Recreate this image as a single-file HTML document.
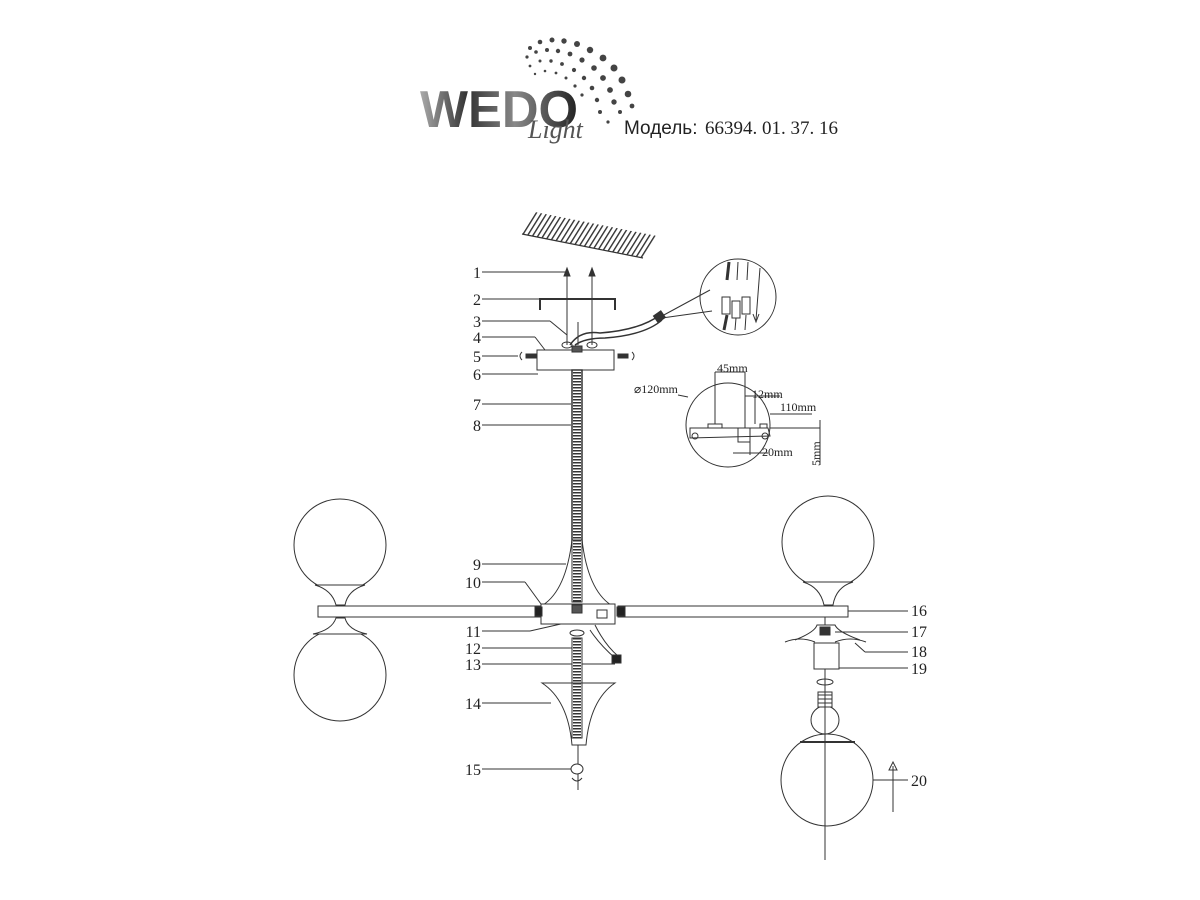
<!DOCTYPE html>
<html><head><meta charset="utf-8"><style>
html,body{margin:0;padding:0;background:#fff;}
svg{display:block}
</style></head><body>
<svg width="1200" height="900" viewBox="0 0 1200 900" xmlns="http://www.w3.org/2000/svg" font-family="Liberation Serif, serif">
<defs>
<pattern id="h" width="4.5" height="10" patternUnits="userSpaceOnUse" patternTransform="rotate(32)">
<rect x="0" y="0" width="1.4" height="10" fill="#333"/>
</pattern>
<linearGradient id="g" x1="0" y1="0" x2="1" y2="0">
<stop offset="0" stop-color="#aaa"/><stop offset="0.3" stop-color="#333"/><stop offset="0.6" stop-color="#888"/><stop offset="1" stop-color="#222"/>
</linearGradient>
</defs>

<!-- Logo -->
<g fill="#444">
<circle cx="530" cy="48" r="2"/><circle cx="540" cy="42" r="2.3"/><circle cx="552" cy="40" r="2.5"/><circle cx="564" cy="41" r="2.7"/><circle cx="577" cy="44" r="3"/><circle cx="590" cy="50" r="3.2"/><circle cx="603" cy="58" r="3.4"/><circle cx="614" cy="68" r="3.5"/><circle cx="622" cy="80" r="3.5"/><circle cx="628" cy="94" r="3.3"/>
<circle cx="527" cy="57" r="1.6"/><circle cx="536" cy="52" r="1.8"/><circle cx="547" cy="50" r="2"/><circle cx="558" cy="51" r="2.2"/><circle cx="570" cy="54" r="2.4"/><circle cx="582" cy="60" r="2.6"/><circle cx="594" cy="68" r="2.8"/><circle cx="603" cy="78" r="2.9"/><circle cx="610" cy="90" r="2.9"/><circle cx="614" cy="102" r="2.7"/>
<circle cx="530" cy="66" r="1.4"/><circle cx="540" cy="61" r="1.5"/><circle cx="551" cy="61" r="1.7"/><circle cx="562" cy="64" r="1.9"/><circle cx="574" cy="70" r="2.1"/><circle cx="584" cy="78" r="2.2"/><circle cx="592" cy="88" r="2.3"/><circle cx="597" cy="100" r="2.2"/><circle cx="600" cy="112" r="2"/>
<circle cx="535" cy="74" r="1.2"/><circle cx="545" cy="71" r="1.3"/><circle cx="556" cy="73" r="1.4"/><circle cx="566" cy="78" r="1.5"/><circle cx="575" cy="86" r="1.6"/><circle cx="582" cy="95" r="1.6"/>
<circle cx="608" cy="122" r="1.6"/><circle cx="620" cy="112" r="2"/><circle cx="632" cy="106" r="2.4"/>
</g>
<text x="420" y="127" style="font-family:'Liberation Sans',sans-serif;font-weight:bold;font-size:52px;fill:url(#g)" textLength="158" lengthAdjust="spacingAndGlyphs">WEDO</text>
<text x="528" y="138" style="font-family:'Liberation Serif',serif;font-size:26px;font-style:italic;fill:#555">Light</text>
<text x="624" y="134" style="font-family:'Liberation Sans',sans-serif;font-size:19px;fill:#222">Модель:</text>
<text x="705" y="134" style="font-family:'Liberation Serif',serif;font-size:19px;fill:#222">66394. 01. 37. 16</text>

<!-- Ceiling hatch -->
<polygon points="522,234 643,258 657,236 535,212" fill="url(#h)"/>
<line x1="522" y1="234" x2="643" y2="258" stroke="#333" stroke-width="1.2"/>

<g stroke="#333" stroke-width="1" fill="none">
<line x1="482" y1="272" x2="567" y2="272"/>
<line x1="482" y1="299" x2="540" y2="299"/>
<line x1="482" y1="321" x2="550" y2="321"/><line x1="550" y1="321" x2="567" y2="335"/>
<line x1="482" y1="337" x2="535" y2="337"/><line x1="535" y1="337" x2="545" y2="350"/>
<line x1="482" y1="356" x2="518" y2="356"/>
<line x1="482" y1="374" x2="538" y2="374"/>
<line x1="482" y1="404" x2="571" y2="404"/>
<line x1="482" y1="425" x2="571" y2="425"/>
<line x1="482" y1="564" x2="566" y2="564"/>
<line x1="482" y1="582" x2="525" y2="582"/><line x1="525" y1="582" x2="541" y2="604"/>
<line x1="482" y1="631" x2="530" y2="631"/><line x1="530" y1="631" x2="574" y2="621"/>
<line x1="482" y1="648" x2="575" y2="648"/>
<line x1="482" y1="664" x2="615" y2="664"/>
<line x1="482" y1="703" x2="551" y2="703"/>
<line x1="482" y1="769" x2="571" y2="769"/>
<line x1="848" y1="611" x2="908" y2="611"/>
<line x1="835" y1="632" x2="908" y2="632"/>
<line x1="855" y1="643" x2="865" y2="652"/><line x1="865" y1="652" x2="908" y2="652"/>
<line x1="838" y1="668" x2="908" y2="668"/>
<line x1="873" y1="780" x2="908" y2="780"/>

<line x1="567" y1="272" x2="567" y2="345"/><line x1="592" y1="272" x2="592" y2="345"/>
<path d="M564,276 L567,268 L570,276 Z" fill="#333"/><path d="M589,276 L592,268 L595,276 Z" fill="#333"/>
<path d="M540,310 L540,299 L615,299 L615,310" stroke-width="2"/>
<line x1="578" y1="322" x2="578" y2="345"/>
<ellipse cx="567" cy="345" rx="5" ry="3"/><ellipse cx="592" cy="345" rx="5" ry="3"/>
<path d="M570,345 Q580,330 600,333 Q640,330 660,315" stroke-width="1.5"/>
<path d="M575,345 Q585,338 605,338 Q645,335 662,320" stroke-width="1.5"/>
<rect x="655" y="313" width="9" height="8" fill="#333" transform="rotate(-35 659 317)"/>
<line x1="662" y1="316" x2="710" y2="290"/><line x1="662" y1="318" x2="712" y2="311"/>
<circle cx="738" cy="297" r="38"/>
<line x1="729" y1="262" x2="727" y2="280" stroke-width="3"/><line x1="738" y1="262" x2="737" y2="280"/><line x1="748" y1="262" x2="747" y2="280"/>
<line x1="760" y1="268" x2="756" y2="320"/><path d="M753,314 L756,322 L759,314"/>
<rect x="722" y="297" width="8" height="17"/><rect x="732" y="301" width="8" height="17"/><rect x="742" y="297" width="8" height="17"/>
<line x1="727" y1="315" x2="724" y2="330" stroke-width="3"/><line x1="736" y1="318" x2="735" y2="330"/><line x1="746" y1="315" x2="745" y2="330"/>

<rect x="526" y="354" width="10" height="4" fill="#333"/><path d="M522,352 q-4,4 0,8"/>
<rect x="618" y="354" width="10" height="4" fill="#333"/><path d="M632,352 q4,4 0,8"/>
<rect x="537" y="350" width="77" height="20"/>
<rect x="572" y="346" width="10" height="6" fill="#555"/>
<rect x="572" y="370" width="10" height="232" fill="#fff" stroke-width="1.5"/>
<line x1="577" y1="372" x2="577" y2="600" stroke="#333" stroke-width="8" stroke-dasharray="1.5,1.5"/>

<circle cx="728" cy="425" r="42"/>
<line x1="688" y1="397" x2="678" y2="395"/>
<path d="M690,428 L768,428 L770,436 L690,438 Z"/>
<ellipse cx="695" cy="436" rx="3" ry="3"/><ellipse cx="765" cy="436" rx="3" ry="3"/>
<rect x="708" y="424" width="14" height="4"/><rect x="738" y="428" width="12" height="14"/><rect x="760" y="424" width="7" height="4"/>
<line x1="715" y1="424" x2="715" y2="372"/><line x1="745" y1="428" x2="745" y2="372"/><line x1="715" y1="372" x2="745" y2="372"/>
<line x1="745" y1="396" x2="780" y2="396"/><line x1="755" y1="396" x2="755" y2="424"/>
<line x1="770" y1="428" x2="820" y2="428"/><line x1="770" y1="414" x2="812" y2="414"/>
<line x1="820" y1="420" x2="820" y2="465"/>
<line x1="733" y1="453" x2="768" y2="453"/><line x1="750" y1="442" x2="750" y2="455"/>
</g>
<g style="font-family:'Liberation Serif',serif;font-size:12px;fill:#222">
<text x="634" y="393">⌀120mm</text>
<text x="717" y="372">45mm</text>
<text x="752" y="398">12mm</text>
<text x="780" y="411">110mm</text>
<text x="762" y="456">20mm</text>
<text x="820" y="466" transform="rotate(-90 820 466)">5mm</text>
</g>

<g stroke="#333" stroke-width="1" fill="#fff">
<circle cx="340" cy="545" r="46"/>
<path d="M315,585 Q332,590 336,605 L345,605 Q348,590 365,585 Z"/>
<circle cx="340" cy="675" r="46"/>
<path d="M313,634 Q332,630 336,618 L345,618 Q348,630 367,634 Z"/>
<circle cx="828" cy="542" r="46"/>
<path d="M803,582 Q820,587 824,605 L833,605 Q836,587 853,582 Z"/>
<rect x="318" y="606" width="222" height="11"/>
<rect x="618" y="606" width="230" height="11"/>
<path d="M572,540 Q566,590 543,605 L611,605 Q588,590 582,540 Z"/>
<rect x="541" y="604" width="74" height="20"/>
<rect x="572" y="540" width="10" height="62"/>
<line x1="577" y1="540" x2="577" y2="602" stroke-width="8" stroke-dasharray="1.5,1.5"/>
<rect x="535" y="607" width="7" height="9" fill="#222"/>
<rect x="617" y="607" width="8" height="9" fill="#222"/>
<rect x="572" y="605" width="10" height="8" fill="#555"/>
<path d="M590,630 Q600,645 615,658" fill="none"/><path d="M595,625 Q605,645 618,656" fill="none"/>
<rect x="612" y="655" width="9" height="8" fill="#222"/>
<rect x="597" y="610" width="10" height="8" fill="none"/>
<ellipse cx="577" cy="633" rx="7" ry="3" fill="none"/>
<rect x="572" y="638" width="10" height="100"/>
<line x1="577" y1="638" x2="577" y2="738" stroke-width="8" stroke-dasharray="1.5,1.5"/>
<path d="M542,683 L615,683 Q590,700 586,745 L572,745 Q568,700 542,683 Z" fill="none"/>
<line x1="578" y1="745" x2="578" y2="790" fill="none"/>
<ellipse cx="577" cy="769" rx="6" ry="5"/>
<path d="M572,778 q5,6 10,0" fill="none"/>

<line x1="825" y1="617" x2="825" y2="625"/>
<path d="M795,640 Q815,632 817,625 L835,625 Q838,632 860,640" fill="none"/>
<rect x="820" y="627" width="10" height="8" fill="#333"/>
<path d="M785,642 Q800,636 815,642 M835,642 Q850,636 866,642" fill="none"/>
<rect x="814" y="643" width="25" height="26"/>
<ellipse cx="825" cy="682" rx="8" ry="3" fill="none"/>
<circle cx="825" cy="720" r="14"/>
<rect x="818" y="692" width="14" height="15"/>
<line x1="818" y1="695" x2="832" y2="695"/><line x1="818" y1="699" x2="832" y2="699"/><line x1="818" y1="703" x2="832" y2="703"/>
<circle cx="827" cy="780" r="46"/>
<line x1="800" y1="742" x2="855" y2="742" stroke-width="2"/>
<line x1="825" y1="669" x2="825" y2="860" fill="none"/>
<line x1="893" y1="812" x2="893" y2="766"/>
<path d="M889,770 L893,762 L897,770 Z" fill="none"/>
</g>

<g style="font-family:'Liberation Serif',serif;font-size:16px;fill:#222" text-anchor="end">
<text x="481" y="278">1</text><text x="481" y="305">2</text><text x="481" y="327">3</text><text x="481" y="343">4</text>
<text x="481" y="362">5</text><text x="481" y="380">6</text><text x="481" y="410">7</text><text x="481" y="431">8</text>
<text x="481" y="570">9</text><text x="481" y="588">10</text><text x="481" y="637">11</text><text x="481" y="654">12</text>
<text x="481" y="670">13</text><text x="481" y="709">14</text><text x="481" y="775">15</text>
</g>
<g style="font-family:'Liberation Serif',serif;font-size:16px;fill:#222">
<text x="911" y="616">16</text><text x="911" y="637">17</text><text x="911" y="657">18</text><text x="911" y="674">19</text><text x="911" y="786">20</text>
</g>
</svg>
</body></html>
